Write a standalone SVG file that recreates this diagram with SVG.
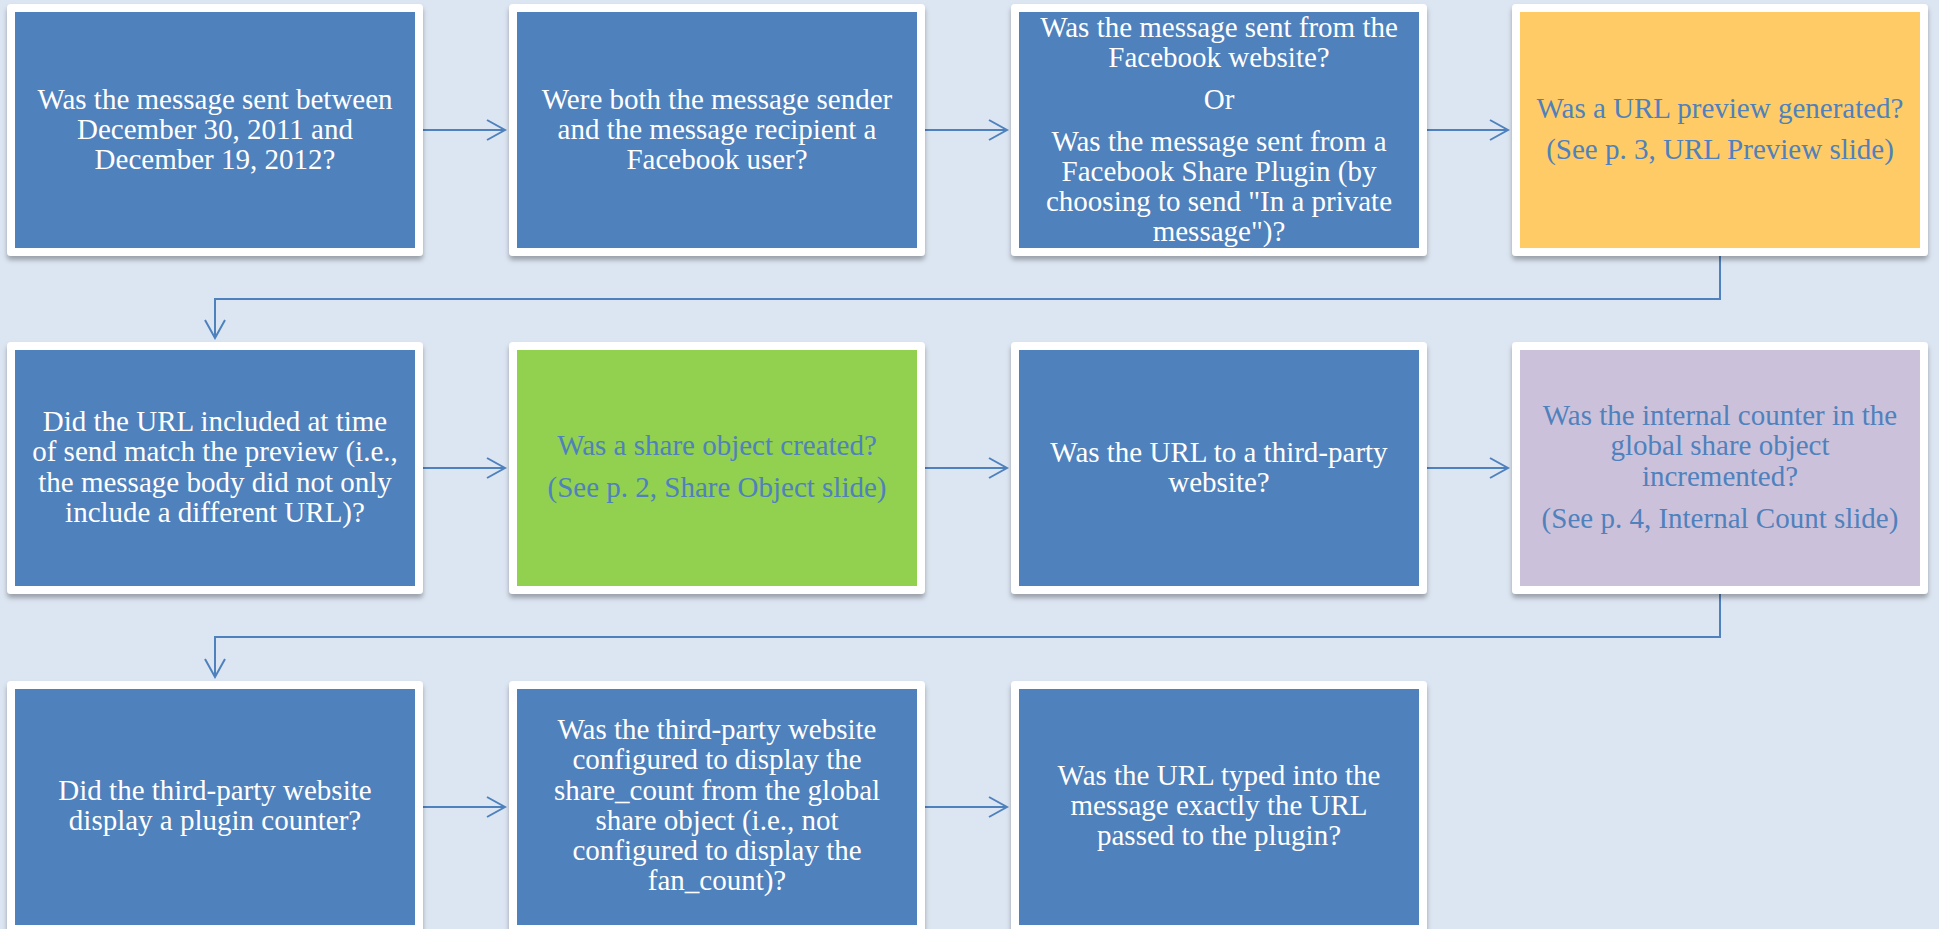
<svg xmlns="http://www.w3.org/2000/svg" width="1939" height="929" viewBox="0 0 1939 929">
<style>
.frame{fill:#FFFFFF;filter:url(#sh)}
.blue{fill:#4F81BD}
.yellow{fill:#FFCB66}
.green{fill:#92D050}
.purple{fill:#CCC1DA}
text{font-family:"Liberation Serif","Times New Roman",serif;font-size:29px;text-anchor:middle}
.w{fill:#FFFFFF}
.b{fill:#4F81BD}
.conn{fill:none;stroke:#4F81BD;stroke-width:2;marker-end:url(#arr)}
</style>
<defs>
<filter id="sh" x="-10%" y="-10%" width="120%" height="125%">
<feDropShadow dx="0" dy="4" stdDeviation="2.5" flood-color="#000000" flood-opacity="0.3"/>
</filter>
<marker id="arr" markerUnits="userSpaceOnUse" viewBox="-20 -12 22 24" markerWidth="22" markerHeight="24" refX="0" refY="0" orient="auto">
<path d="M-18,-10 L0,0 L-18,10" fill="none" stroke="#4F81BD" stroke-width="2"/>
</marker>
</defs>
<rect x="0" y="0" width="1939" height="929" fill="#DCE6F2"/>

<g id="connectors">
<path class="conn" d="M423,130 H505"/>
<path class="conn" d="M925,130 H1007"/>
<path class="conn" d="M1427,130 H1508"/>
<path class="conn" d="M1720,256 V299 H215 V338"/>
<path class="conn" d="M423,468 H505"/>
<path class="conn" d="M925,468 H1007"/>
<path class="conn" d="M1427,468 H1508"/>
<path class="conn" d="M1720,594 V637 H215 V677"/>
<path class="conn" d="M423,807 H505"/>
<path class="conn" d="M925,807 H1007"/>
</g>

<g id="n1">
<rect class="frame" x="7" y="4" width="416" height="252" rx="4"/>
<rect class="blue" x="15" y="12" width="400" height="236"/>
<text class="w"><tspan x="215" y="109">Was the message sent between</tspan><tspan x="215" y="139">December 30, 2011 and</tspan><tspan x="215" y="169">December 19, 2012?</tspan></text>
</g>

<g id="n2">
<rect class="frame" x="509" y="4" width="416" height="252" rx="4"/>
<rect class="blue" x="517" y="12" width="400" height="236"/>
<text class="w"><tspan x="717" y="109">Were both the message sender</tspan><tspan x="717" y="139">and the message recipient a</tspan><tspan x="717" y="169">Facebook user?</tspan></text>
</g>

<g id="n3">
<rect class="frame" x="1011" y="4" width="416" height="252" rx="4"/>
<rect class="blue" x="1019" y="12" width="400" height="236"/>
<text class="w"><tspan x="1219" y="37">Was the message sent from the</tspan><tspan x="1219" y="67">Facebook website?</tspan><tspan x="1219" y="109">Or</tspan><tspan x="1219" y="151">Was the message sent from a</tspan><tspan x="1219" y="181">Facebook Share Plugin (by</tspan><tspan x="1219" y="211">choosing to send "In a private</tspan><tspan x="1219" y="241">message")?</tspan></text>
</g>

<g id="n4">
<rect class="frame" x="1512" y="4" width="416" height="252" rx="4"/>
<rect class="yellow" x="1520" y="12" width="400" height="236"/>
<text class="b"><tspan x="1720" y="118">Was a URL preview generated?</tspan><tspan x="1720" y="159">(See p. 3, URL Preview slide)</tspan></text>
</g>

<g id="n5">
<rect class="frame" x="7" y="342" width="416" height="252" rx="4"/>
<rect class="blue" x="15" y="350" width="400" height="236"/>
<text class="w"><tspan x="215" y="431">Did the URL included at time</tspan><tspan x="215" y="461">of send match the preview (i.e.,</tspan><tspan x="215" y="492">the message body did not only</tspan><tspan x="215" y="522">include a different URL)?</tspan></text>
</g>

<g id="n6">
<rect class="frame" x="509" y="342" width="416" height="252" rx="4"/>
<rect class="green" x="517" y="350" width="400" height="236"/>
<text class="b"><tspan x="717" y="455">Was a share object created?</tspan><tspan x="717" y="497">(See p. 2, Share Object slide)</tspan></text>
</g>

<g id="n7">
<rect class="frame" x="1011" y="342" width="416" height="252" rx="4"/>
<rect class="blue" x="1019" y="350" width="400" height="236"/>
<text class="w"><tspan x="1219" y="462">Was the URL to a third-party</tspan><tspan x="1219" y="492">website?</tspan></text>
</g>

<g id="n8">
<rect class="frame" x="1512" y="342" width="416" height="252" rx="4"/>
<rect class="purple" x="1520" y="350" width="400" height="236"/>
<text class="b"><tspan x="1720" y="425">Was the internal counter in the</tspan><tspan x="1720" y="455">global share object</tspan><tspan x="1720" y="486">incremented?</tspan><tspan x="1720" y="528">(See p. 4, Internal Count slide)</tspan></text>
</g>

<g id="n9">
<rect class="frame" x="7" y="681" width="416" height="252" rx="4"/>
<rect class="blue" x="15" y="689" width="400" height="236"/>
<text class="w"><tspan x="215" y="800">Did the third-party website</tspan><tspan x="215" y="830">display a plugin counter?</tspan></text>
</g>

<g id="n10">
<rect class="frame" x="509" y="681" width="416" height="252" rx="4"/>
<rect class="blue" x="517" y="689" width="400" height="236"/>
<text class="w"><tspan x="717" y="739">Was the third-party website</tspan><tspan x="717" y="769">configured to display the</tspan><tspan x="717" y="800">share_count from the global</tspan><tspan x="717" y="830">share object (i.e., not</tspan><tspan x="717" y="860">configured to display the</tspan><tspan x="717" y="890">fan_count)?</tspan></text>
</g>

<g id="n11">
<rect class="frame" x="1011" y="681" width="416" height="252" rx="4"/>
<rect class="blue" x="1019" y="689" width="400" height="236"/>
<text class="w"><tspan x="1219" y="785">Was the URL typed into the</tspan><tspan x="1219" y="815">message exactly the URL</tspan><tspan x="1219" y="845">passed to the plugin?</tspan></text>
</g>
</svg>
